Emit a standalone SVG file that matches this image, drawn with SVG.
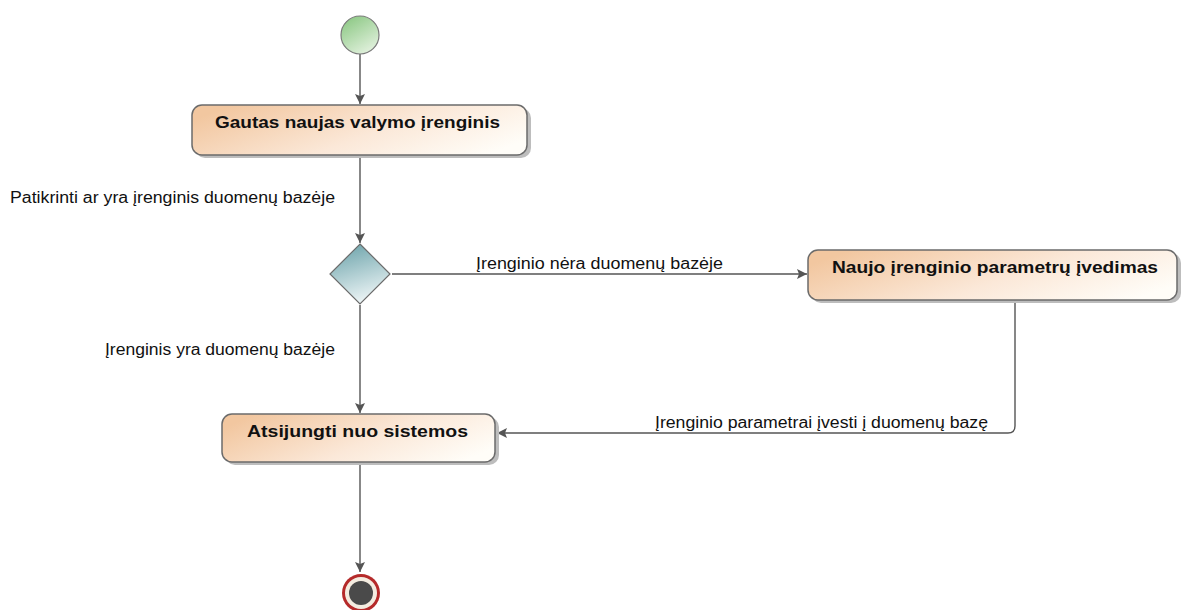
<svg xmlns="http://www.w3.org/2000/svg" width="1182" height="610" viewBox="0 0 1182 610">
<style>
.lbl{font-family:"Liberation Sans",Arial,sans-serif;font-size:16px;fill:#111}
.act{font-family:"Liberation Sans",Arial,sans-serif;font-size:17px;font-weight:bold;fill:#111}
.box{fill:url(#gAct);stroke:#6b6b6b;stroke-width:1.5}
.shadow{fill:#bdbdbd}
.edge{fill:none;stroke:#555;stroke-width:1.4}
</style>
<defs>
<linearGradient id="gAct" x1="0" y1="0.3" x2="1" y2="0.7">
<stop offset="0" stop-color="#f2c7a0"/>
<stop offset="0.55" stop-color="#fbe8d8"/>
<stop offset="1" stop-color="#fffdf8"/>
</linearGradient>
<linearGradient id="gStart" x1="0.2" y1="0" x2="0.8" y2="1">
<stop offset="0" stop-color="#8cc884"/>
<stop offset="1" stop-color="#e6f3e2"/>
</linearGradient>
<linearGradient id="gDec" x1="0.3" y1="0" x2="0.6" y2="1">
<stop offset="0" stop-color="#6fa5ac"/>
<stop offset="1" stop-color="#f2f8f9"/>
</linearGradient>
<marker id="arr" viewBox="0 0 10 10" refX="10" refY="5" markerWidth="10" markerHeight="10" markerUnits="userSpaceOnUse" orient="auto">
<path d="M0,0 L10,5 L0,10 L2,5 Z" fill="#555"/>
</marker>
</defs>

<g id="connectors">
<line class="edge" x1="360" y1="54" x2="360" y2="104" marker-end="url(#arr)"/>
<line class="edge" x1="360" y1="157" x2="360" y2="243" marker-end="url(#arr)"/>
<line class="edge" x1="392" y1="274" x2="807" y2="274" marker-end="url(#arr)"/>
<line class="edge" x1="360" y1="305" x2="360" y2="413" marker-end="url(#arr)"/>
<path class="edge" d="M1015,302 L1015,426 Q1015,433 1008,433 L497,433" marker-end="url(#arr)"/>
<line class="edge" x1="360" y1="463" x2="360" y2="572" marker-end="url(#arr)"/>
<text class="lbl" x="10" y="203" textLength="325" lengthAdjust="spacingAndGlyphs">Patikrinti ar yra įrenginis duomenų bazėje</text>
<text class="lbl" x="476" y="269" textLength="247" lengthAdjust="spacingAndGlyphs">Įrenginio nėra duomenų bazėje</text>
<text class="lbl" x="105" y="355" textLength="230" lengthAdjust="spacingAndGlyphs">Įrenginis yra duomenų bazėje</text>
<text class="lbl" x="655" y="428" textLength="333" lengthAdjust="spacingAndGlyphs">Įrenginio parametrai įvesti į duomenų bazę</text>
</g>

<g id="start">
<circle cx="360" cy="35" r="19" fill="url(#gStart)" stroke="#7a7a7a" stroke-width="1.2"/>
</g>

<g id="act1">
<rect class="shadow" x="195" y="108" width="336" height="50" rx="10"/>
<rect class="box" x="192" y="105" width="335" height="50" rx="10"/>
<text class="act" x="215" y="128" textLength="285" lengthAdjust="spacingAndGlyphs">Gautas naujas valymo įrenginis</text>
</g>

<g id="decision">
<path d="M360,244 L390,274 L360,304 L330,274 Z" fill="url(#gDec)" stroke="#6b6b6b" stroke-width="1.2"/>
</g>

<g id="act2">
<rect class="shadow" x="811" y="253" width="370" height="50" rx="10"/>
<rect class="box" x="808" y="250" width="369" height="50" rx="10"/>
<text class="act" x="832" y="273" textLength="326" lengthAdjust="spacingAndGlyphs">Naujo įrenginio parametrų įvedimas</text>
</g>

<g id="act3">
<rect class="shadow" x="225" y="417" width="274" height="48" rx="10"/>
<rect class="box" x="222" y="414" width="273" height="48" rx="10"/>
<text class="act" x="247" y="437" textLength="221" lengthAdjust="spacingAndGlyphs">Atsijungti nuo sistemos</text>
</g>

<g id="end">
<circle cx="361" cy="593" r="19" fill="#b52a2a"/>
<circle cx="361" cy="593" r="16" fill="#f4ece0"/>
<circle cx="361" cy="593" r="12" fill="#4a4a4a"/>
</g>
</svg>
